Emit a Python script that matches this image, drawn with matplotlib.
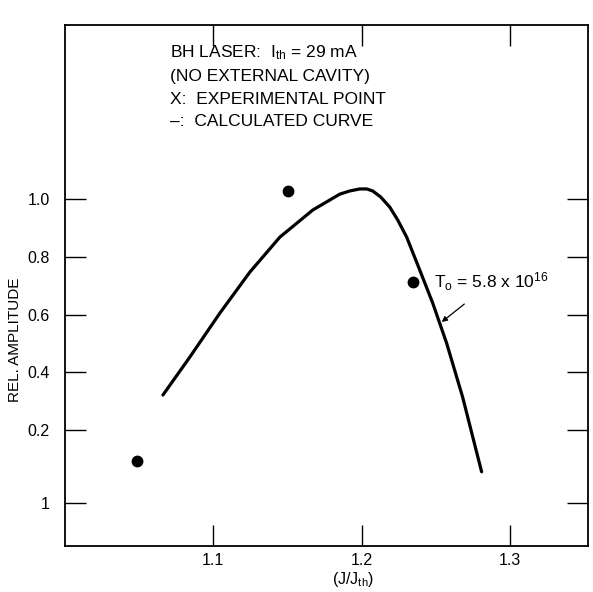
import matplotlib
matplotlib.use("Agg")
import matplotlib.pyplot as plt

plt.rcParams['font.family'] = ['Liberation Sans', 'DejaVu Sans']
plt.rcParams['mathtext.fontset'] = 'custom'
plt.rcParams['mathtext.rm'] = 'Liberation Sans'
plt.rcParams['mathtext.it'] = 'Liberation Sans'

# Experimental points
exp_x = [1.0485, 1.150, 1.2343]
exp_y = [0.093, 1.028, 0.713]

# Calculated curve
calc_x = [1.066, 1.0842, 1.1044, 1.1246, 1.1448, 1.1670, 1.1852, 1.1919,
          1.1987, 1.2034, 1.2074, 1.2128, 1.2189, 1.2243, 1.2303, 1.2391,
          1.2478, 1.2572, 1.2680, 1.2808]
calc_y = [0.321, 0.453, 0.605, 0.747, 0.868, 0.962, 1.017, 1.028,
          1.035, 1.035, 1.028, 1.007, 0.972, 0.927, 0.868, 0.754,
          0.640, 0.501, 0.314, 0.055]

x_ticks = [1.1, 1.2, 1.3]
x_labels = ['1.1', '1.2', '1.3']
y_ticks = [-0.053, 0.2, 0.4, 0.6, 0.8, 1.0]
y_labels = ['1', '0.2', '0.4', '0.6', '0.8', '1.0']

fig = plt.figure(figsize=(5.93, 5.92), dpi=100)
ax = fig.add_axes([65/593, 1-546/592, (588-65)/593, (546-25)/592])
ax.set_xlim(1.0, 1.3525)
ax.set_ylim(-0.202, 1.603)

ax.plot(calc_x, calc_y, color='black', lw=2.3, solid_capstyle='round',
        solid_joinstyle='round')
ax.plot(exp_x, exp_y, 'o', color='black', ms=7.5)

for s in ax.spines.values():
    s.set_linewidth(1.3)

ax.set_xticks(x_ticks)
ax.set_xticklabels(x_labels)
ax.set_yticks(y_ticks)
ax.set_yticklabels(y_labels)
ax.tick_params(direction='in', length=15, width=1.0, top=True, right=True,
               labelsize=11.5)
ax.tick_params(axis='y', pad=11)
ax.tick_params(axis='x', pad=5)

ax.set_ylabel('REL. AMPLITUDE', fontsize=11)
ax.yaxis.set_label_coords(-0.082, 0.395)
ax.set_xlabel(r'(J/J$_{\rm th}$)', fontsize=11.5, va='center')
ax.xaxis.set_label_coords(0.55, -0.065)

lines = [r'BH LASER:  I$_{\rm th}$ = 29 mA',
         '(NO EXTERNAL CAVITY)',
         'X:  EXPERIMENTAL POINT',
         '\u2013:  CALCULATED CURVE']
ys = [53, 77, 99, 121]
for t, yy in zip(lines, ys):
    fig.text(170/593, 1-yy/592, t, fontsize=12.5, va='center', ha='left')

ax.annotate(r'T$_{\rm o}$ = 5.8 x 10$^{16}$', xy=(1.2539, 0.574),
            xytext=(1.249, 0.712), fontsize=12.5, va='center', ha='left',
            arrowprops=dict(arrowstyle='-|>', color='black', lw=0.9,
                            shrinkA=9, shrinkB=0, mutation_scale=8))

fig.savefig('out.png', dpi=100)
